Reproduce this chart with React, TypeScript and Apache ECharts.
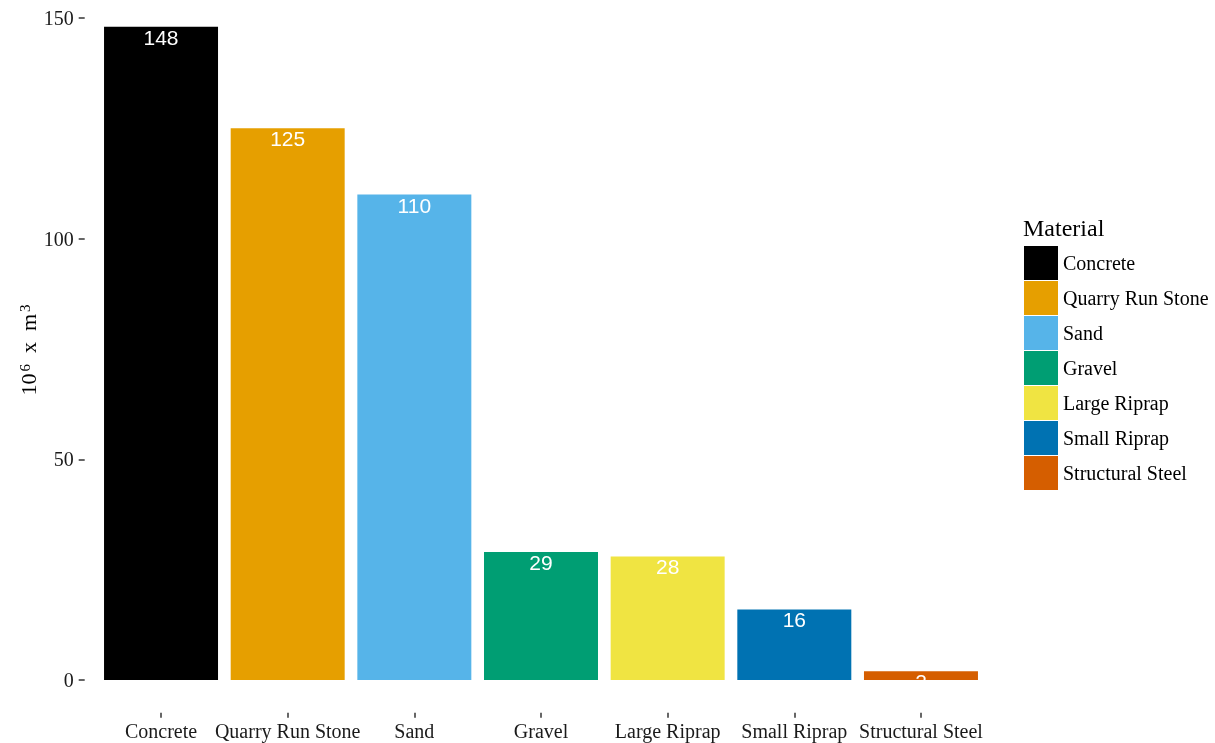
import React, { useEffect, useRef } from "react";
import * as echarts from "echarts";

const categories = ["Concrete", "Quarry Run Stone", "Sand", "Gravel", "Large Riprap", "Small Riprap", "Structural Steel"];
const values = [148, 125, 110, 29, 28, 16, 2];
const colors = ["#000000", "#E69F00", "#56B4E9", "#009E73", "#F0E442", "#0072B2", "#D55E00"];
const yTicks = [0, 50, 100, 150];
const yMin = -7.4;

export default function App() {
  const ref = useRef<HTMLDivElement>(null);
  useEffect(() => {
    if (!ref.current) return;
    const chart = echarts.init(ref.current, null, { renderer: "svg" });
    const series = categories.map((name, i) => ({
      name,
      type: "bar",
      barWidth: "90%",
      barGap: "-100%",
      itemStyle: { color: colors[i] },
      data: values.map((v, j) => (j === i ? v : null)),
      label: {
        show: true,
        position: "insideTop",
        distance: 0,
        color: "#ffffff",
        fontFamily: "Liberation Sans",
        fontSize: 21,
      },
    }));
    chart.setOption({
      animation: false,
      grid: { left: 97.7, right: 230.7, top: 18, bottom: 30.3, containLabel: false },
      xAxis: {
        type: "category",
        data: categories,
        axisLine: { show: false, onZero: false },
        axisTick: { show: true, alignWithLabel: true, length: 5, lineStyle: { color: "#333", width: 1.5 } },
        axisLabel: { margin: 8, color: "#1a1a1a", fontFamily: "Liberation Serif", fontSize: 20, interval: 0 },
      },
      yAxis: {
        type: "value",
        min: yMin,
        max: yTicks[yTicks.length - 1],
        offset: 13,
        axisLine: { show: false },
        splitLine: { show: false },
        axisTick: { show: true, length: 6, customValues: yTicks, lineStyle: { color: "#333", width: 1.5 } },
        axisLabel: { margin: 11, customValues: yTicks, color: "#1a1a1a", fontFamily: "Liberation Serif", fontSize: 20 },
      },
      legend: {
        orient: "vertical",
        left: 1024,
        top: 246,
        padding: 0,
        icon: "rect",
        itemWidth: 34,
        itemHeight: 34,
        itemGap: 1,
        itemStyle: { borderWidth: 0 },
        textStyle: { fontFamily: "Liberation Serif", fontSize: 20, color: "#000" },
        data: categories,
      },
      graphic: [
        {
          type: "text",
          x: 1023,
          y: 228,
          style: { text: "Material", fontFamily: "Liberation Serif", fontSize: 24, fill: "#000", textAlign: "left", textVerticalAlign: "middle" },
        },
        {
          type: "text",
          x: 28,
          y: 350,
          rotation: Math.PI / 2,
          style: {
            text: "{b|10}{s|6}{b|  x  m}{s|3}",
            fontFamily: "Liberation Serif",
            fill: "#000",
            textAlign: "center",
            textVerticalAlign: "middle",
            rich: {
              b: { fontFamily: "Liberation Serif", fontSize: 22, fill: "#000", verticalAlign: "bottom" },
              s: { fontFamily: "Liberation Serif", fontSize: 15, fill: "#000", verticalAlign: "top", padding: [0, 0, 0, 2] },
            },
          },
        },
      ],
      series,
    });
    return () => chart.dispose();
  }, []);
  return <div ref={ref} style={{ position: "fixed", left: 0, top: 0, width: 1215, height: 743 }} />;
}
